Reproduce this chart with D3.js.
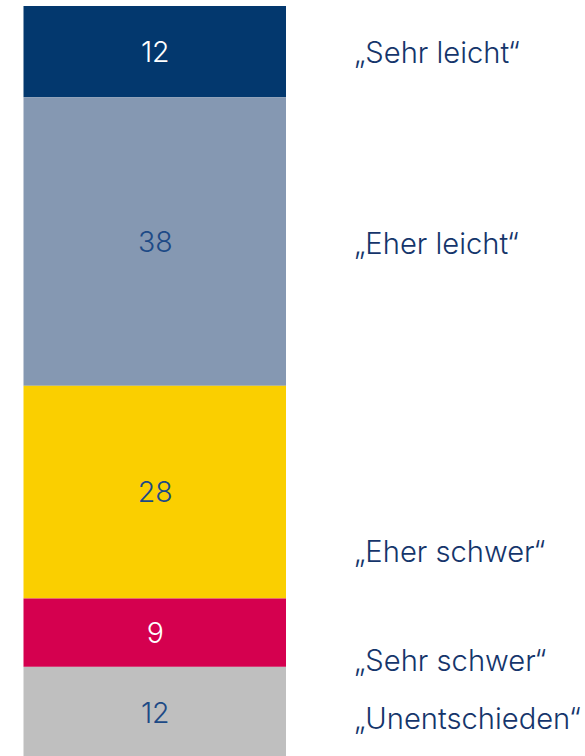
<!DOCTYPE html>
<html><head><meta charset="utf-8">
<script src="https://cdn.jsdelivr.net/npm/d3@7"></script>
<style>body{margin:0;background:#fff}svg{display:block}</style>
</head><body>
<script>
const categories = ["„Sehr leicht“", "„Eher leicht“", "„Eher schwer“", "„Sehr schwer“", "„Unentschieden“"];
const values = [12, 38, 28, 9, 12];
const colors = ["#03386e", "#8598b2", "#facf00", "#d5004f", "#bfbfbf"];
const valueColors = ["#ffffff", "#1d4a86", "#1d4a86", "#ffffff", "#1d4a86"];
// label vertical centres (layout)
const labelY = [52, 243, 551, 660, 718];

const W = 585, H = 756;
const svg = d3.select("body").append("svg").attr("width", W).attr("height", H);
const total = d3.sum(values);
const y = d3.scaleLinear().domain([0, total]).range([6, 758]);
const x0 = 23.5, x1 = 286;
let cum = 0;
const segs = values.map((v, i) => { const s = {v, i, a: cum, b: cum + v}; cum += v; return s; });

svg.selectAll("rect").data(segs).join("rect")
  .attr("x", x0).attr("width", x1 - x0)
  .attr("y", d => y(d.a)).attr("height", d => y(d.b) - y(d.a))
  .attr("fill", d => colors[d.i]);

const font = "Inter, 'Open Sans', sans-serif";
svg.selectAll("text.v").data(segs).join("text").attr("class", "v")
  .attr("x", (x0 + x1) / 2 + 0.5).attr("y", d => (y(d.a) + y(d.b)) / 2)
  .attr("dy", "0.36em").attr("text-anchor", "middle")
  .attr("font-family", font).attr("font-weight", 300).attr("font-size", 28.5)
  .attr("fill", d => valueColors[d.i]).text(d => d.v);

const labels = svg.selectAll("text.l").data(categories).join("text").attr("class", "l")
  .attr("x", 354).attr("y", (d, i) => labelY[i])
  .attr("dy", "0.36em")
  .attr("font-family", font).attr("font-weight", 300).attr("font-size", 25)
  .attr("fill", "#15356b").text(d => d);
// fit label size so the longest label spans like the reference
const longest = labels.filter((d, i) => i === 4).node();
const wNow = longest.getComputedTextLength();
const fs = Math.max(20, Math.min(30, 25 * 227 / wNow));
labels.attr("font-size", fs);
</script>
</body></html>
